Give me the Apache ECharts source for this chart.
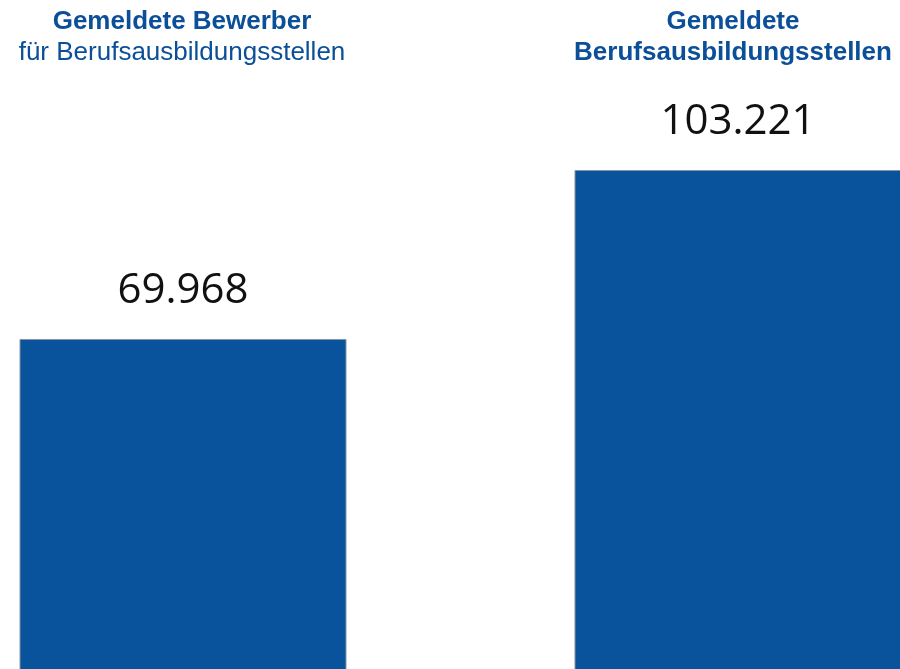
<!DOCTYPE html>
<html>
<head>
<meta charset="utf-8">
<script src="https://cdn.jsdelivr.net/npm/echarts@6/dist/echarts.min.js"></script>
<style>
  html, body { margin: 0; padding: 0; background: #ffffff; }
  #chart { width: 900px; height: 669px; }
</style>
</head>
<body>
<div id="chart"></div>
<script>
// Two totals: reported applicants vs. reported training positions
var categories = ['Bewerber', 'Berufsausbildungsstellen'];
var values = [69968, 103221];
var headlineBold = ['Gemeldete Bewerber', 'Gemeldete'];
var headlineSub = ['für Berufsausbildungsstellen', 'Berufsausbildungsstellen'];
var headlineSubBold = [false, true];

var blue = '#09529C';
var titleBlue = '#0B4F98';

function formatThousands(v) {
  return String(v).replace(/\B(?=(\d{3})+(?!\d))/g, '.');
}

var titleCenters = [177, 728];
var titles = categories.map(function (c, i) {
  return {
    text: '{b|' + headlineBold[i] + '}\n{' + (headlineSubBold[i] ? 'b' : 'n') + '|' + headlineSub[i] + '}',
    left: titleCenters[i],
    top: 1,
    textAlign: 'center',
    textStyle: {
      rich: {
        b: { fontFamily: 'Liberation Sans, Arial, sans-serif', fontWeight: 'bold', fontSize: 26, color: titleBlue, lineHeight: 31, align: 'center' },
        n: { fontFamily: 'Liberation Sans, Arial, sans-serif', fontWeight: 'normal', fontSize: 26, color: titleBlue, lineHeight: 31, align: 'center' }
      }
    }
  };
});

var chart = echarts.init(document.getElementById('chart'), null, { renderer: 'canvas' });
chart.setOption({
  animation: false,
  backgroundColor: '#ffffff',
  title: titles,
  grid: { left: -94.5, right: -115.5, top: 170, bottom: -25.5, containLabel: false, outerBoundsMode: 'none' },
  xAxis: {
    type: 'category',
    data: categories,
    show: false
  },
  yAxis: {
    type: 'value',
    min: 0,
    max: values[1],
    show: false
  },
  series: [{
    type: 'bar',
    data: values,
    barWidth: 327,
    itemStyle: { color: blue, borderColor: '#8794a6', borderWidth: 1 },
    label: {
      show: true,
      position: 'top',
      distance: 27,
      formatter: function (p) { return formatThousands(p.value); },
      fontFamily: 'Open Sans, Noto Sans, sans-serif',
      fontSize: 42,
      color: '#111111'
    }
  }]
});
</script>
</body>
</html>
